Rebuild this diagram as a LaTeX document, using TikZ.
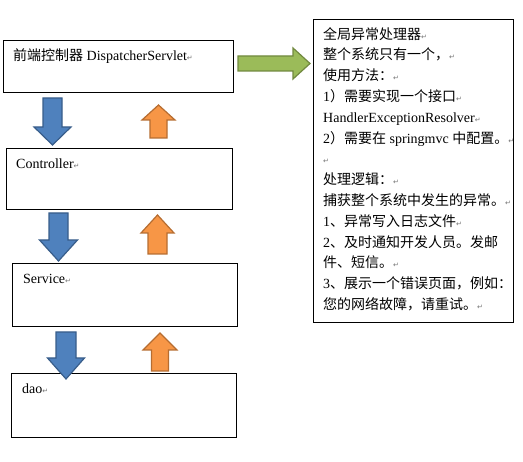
\documentclass[tikz,border=0pt]{standalone}
\usepackage{fontspec}
\setmainfont{Liberation Serif}
\newfontfamily\cjk{Noto Sans CJK SC}
\newfontfamily\symb{DejaVu Sans}
\usetikzlibrary{calc}

\definecolor{downblue}{HTML}{4F81BD}
\definecolor{downblueline}{HTML}{385D8A}
\definecolor{uporange}{HTML}{F79646}
\definecolor{uporangeline}{HTML}{B66D31}
\definecolor{sidegreen}{HTML}{9BBB59}
\definecolor{sidegreenline}{HTML}{71893F}

\newcommand{\zh}[1]{{\cjk #1}}
\newcommand{\enter}{{\symb\fontsize{7}{7}\selectfont\textcolor{black!55}{↵}}}
% style, x, tail y, head base y, tip y, half shaft, half head
\newcommand{\vblock}[7]{%
  \draw[#1] (#2-#6,#3) -- (#2+#6,#3) -- (#2+#6,#4) -- (#2+#7,#4) -- (#2,#5)
    -- (#2-#7,#4) -- (#2-#6,#4) -- cycle;}

\begin{document}
\begin{tikzpicture}[x=1pt, y=-1pt,
  every node/.style={font=\fontsize{14}{20.8}\selectfont},
  layer/.style={draw=black, line width=0.8pt, inner sep=0pt},
  downarrow/.style={fill=downblue, draw=downblueline, line width=1.2pt},
  uparrow/.style={fill=uporange, draw=uporangeline, line width=1.2pt},
  sidearrow/.style={fill=sidegreen, draw=sidegreenline, line width=1.2pt}]
  \useasboundingbox (0,0) rectangle (523,462);

  % layers
  \node[layer, anchor=north west, minimum width=230, minimum height=52] (front) at (3,40) {};
  \node[layer, anchor=north west, minimum width=226, minimum height=61] (controller) at (6,148) {};
  \node[layer, anchor=north west, minimum width=225, minimum height=63] (service) at (12,263) {};
  \node[layer, anchor=north west, minimum width=225, minimum height=64] (dao) at (11,373) {};
  \node[layer, anchor=north west, minimum width=200, minimum height=303] (handler) at (313,19) {};

  \node[anchor=west, inner sep=0pt] (fronttxt) at (13,56) {\zh{前端控制器} DispatcherServlet\enter};
  \node[anchor=west, inner sep=0pt] (controllertxt) at (16,164) {Controller\enter};
  \node[anchor=west, inner sep=0pt] (servicetxt) at (23,279) {Service\enter};
  \node[anchor=west, inner sep=0pt] (daotxt) at (22,389) {dao\enter};

  \node[anchor=north west, align=left, inner sep=0pt] (handlertxt) at (323,27) {%
    \zh{全局异常处理器}\enter\\
    \zh{整个系统只有一个，}\enter\\
    \zh{使用方法：}\enter\\
    1\zh{）需要实现一个接口}\enter\\
    HandlerExceptionResolver\enter\\
    2\zh{）需要在} springmvc \zh{中配置。}\enter\\
    \enter\\
    \zh{处理逻辑：}\enter\\
    \zh{捕获整个系统中发生的异常。}\enter\\
    1\zh{、异常写入日志文件}\enter\\
    2\zh{、及时通知开发人员。发邮}\\
    \zh{件、短信。}\enter\\
    3\zh{、展示一个错误页面，例如：}\\
    \zh{您的网络故障，请重试。}\enter};

  % request goes down
  \vblock{downarrow}{52.5}{98}{127}{145}{9.5}{18.5}
  \vblock{downarrow}{58.5}{213}{240}{261}{9.5}{19}
  \vblock{downarrow}{66}{332}{358}{379}{10}{18.5}

  % response goes up
  \vblock{uparrow}{158.5}{138}{120}{105}{8.5}{16.5}
  \vblock{uparrow}{157.5}{254}{233}{215}{9.5}{16.5}
  \vblock{uparrow}{160}{371}{350}{333}{8.5}{17}

  % to the exception handler
  \draw[sidearrow] (238,56) -- (293,56) -- (293,48) -- (310,63.5) -- (293,79)
    -- (293,71) -- (238,71) -- cycle;
\end{tikzpicture}
\end{document}
